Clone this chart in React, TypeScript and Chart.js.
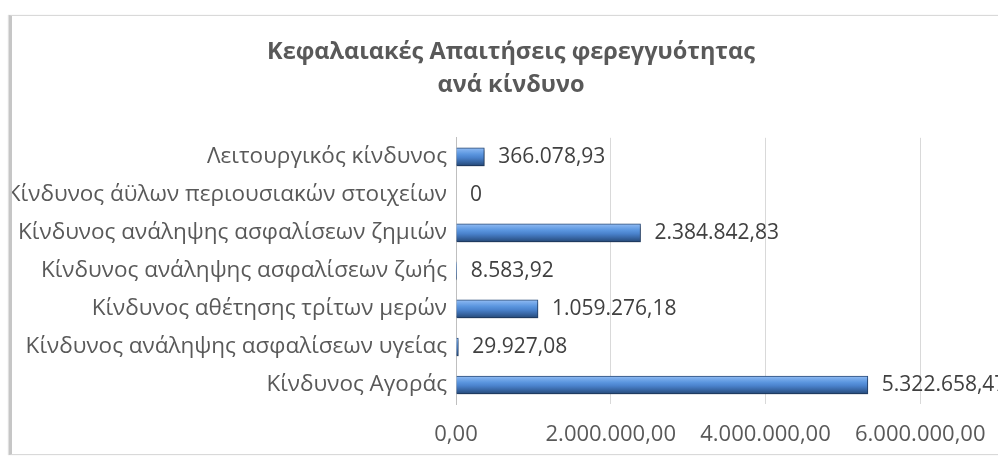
import React, { useEffect, useRef } from "react";
import { Chart, registerables } from "chart.js";

Chart.register(...registerables);

const TITLE_LINES = ["Κεφαλαιακές Απαιτήσεις φερεγγυότητας", "ανά κίνδυνο"];

const CATEGORIES = [
  "Λειτουργικός κίνδυνος",
  "Κίνδυνος άϋλων περιουσιακών στοιχείων",
  "Κίνδυνος ανάληψης ασφαλίσεων ζημιών",
  "Κίνδυνος ανάληψης ασφαλίσεων ζωής",
  "Κίνδυνος αθέτησης τρίτων μερών",
  "Κίνδυνος ανάληψης ασφαλίσεων υγείας",
  "Κίνδυνος Αγοράς",
];

const VALUES = [366078.93, 0, 2384842.83, 8583.92, 1059276.18, 29927.08, 5322658.47];

const X_TICKS = [0, 2000000, 4000000, 6000000];
const X_MIN = 0;
const X_MAX = 7160000;

const FONT = "'Open Sans', 'Noto Sans', sans-serif";

function groupThousands(s: string) {
  return s.replace(/\B(?=(\d{3})+(?!\d))/g, ".");
}
function fmtTick(v: number) {
  const [i, d] = v.toFixed(2).split(".");
  return groupThousands(i) + "," + d;
}
function fmtLabel(v: number) {
  if (v === 0) return "0";
  return fmtTick(v);
}

const barStyle = {
  id: "barStyle",
  beforeDatasetsDraw(chart: any) {
    const ctx = chart.ctx;
    const meta = chart.getDatasetMeta(0);
    meta.data.forEach((el: any) => {
      const h = el.height;
      const top = el.y - h / 2;
      const g = ctx.createLinearGradient(0, top, 0, top + h);
      g.addColorStop(0, "#a6c8f2");
      g.addColorStop(0.1, "#80b0ee");
      g.addColorStop(0.35, "#5b96df");
      g.addColorStop(0.55, "#4a82cc");
      g.addColorStop(0.75, "#3a69a8");
      g.addColorStop(0.92, "#2c5387");
      g.addColorStop(1, "#223f66");
      el.options.backgroundColor = g;
    });
    ctx.save();
    ctx.shadowColor = "rgba(0,0,0,0.35)";
    ctx.shadowBlur = 3;
    ctx.shadowOffsetY = 2;
    ctx.shadowOffsetX = 1;
  },
  afterDatasetsDraw(chart: any) {
    const ctx = chart.ctx;
    ctx.restore();
    const meta = chart.getDatasetMeta(0);
    ctx.save();
    ctx.font = `21px ${FONT}`;
    ctx.fillStyle = "#404040";
    ctx.textAlign = "left";
    ctx.textBaseline = "middle";
    meta.data.forEach((el: any, i: number) => {
      ctx.fillText(fmtLabel(VALUES[i]), el.x + 14, el.y);
    });
    ctx.restore();
  },
};

export default function App() {
  const ref = useRef<HTMLCanvasElement>(null);
  useEffect(() => {
    if (!ref.current) return;
    const chart = new Chart(ref.current, {
      type: "bar",
      data: {
        labels: CATEGORIES,
        datasets: [
          {
            data: VALUES,
            backgroundColor: (c: any) => "#4f81bd",
            borderColor: "#26497a",
            borderWidth: 1,
            borderSkipped: "start",
            barThickness: 18,
          },
        ],
      },
      options: {
        indexAxis: "y",
        animation: false,
        responsive: false,
        maintainAspectRatio: false,
        layout: { padding: { top: 0, right: 0, bottom: 7, left: 0 } },
        plugins: {
          legend: { display: false },
          tooltip: { enabled: false },
          title: {
            display: true,
            text: TITLE_LINES,
            color: "#595959",
            font: { family: FONT, size: 23.5, weight: "bold", lineHeight: 1.4 },
            padding: { top: 20, bottom: 36 },
          },
        },
        scales: {
          x: {
            min: X_MIN,
            max: X_MAX,
            afterBuildTicks: (scale: any) => {
              scale.ticks = X_TICKS.map((value) => ({ value }));
            },
            afterFit: (scale: any) => {
              scale.height = 43;
            },
            ticks: {
              autoSkip: false,
              color: "#595959",
              font: { family: FONT, size: 22 },
              padding: 18,
              maxRotation: 0,
              callback: (v: any) => fmtTick(Number(v)),
            },
            grid: { color: "#d9d9d9", drawTicks: false },
            border: { display: false },
          },
          y: {
            afterFit: (scale: any) => {
              scale.width = 444;
            },
            ticks: {
              color: "#595959",
              font: { family: FONT, size: 22.5 },
              padding: 9,
            },
            grid: { display: false, drawTicks: false },
            border: { display: true, color: "#bfbfbf" },
          },
        },
      },
      plugins: [barStyle],
    });
    return () => chart.destroy();
  }, []);

  return (
    <div
      style={{
        position: "fixed",
        left: 0,
        top: 0,
        width: 998,
        height: 457,
        overflow: "hidden",
        background: "#ffffff",
      }}
    >
      <div
        style={{
          position: "absolute",
          left: 9,
          top: 15,
          width: 1100,
          height: 438,
          borderTop: "1px solid #d9d9d9",
          borderBottom: "1px solid #d9d9d9",
          borderLeft: "3px solid #c6c6c6",
          boxShadow: "-1px 0 1px #e0e0e0",
        }}
      >
        <canvas ref={ref} width={998} height={438} style={{ display: "block" }} />
      </div>
    </div>
  );
}
